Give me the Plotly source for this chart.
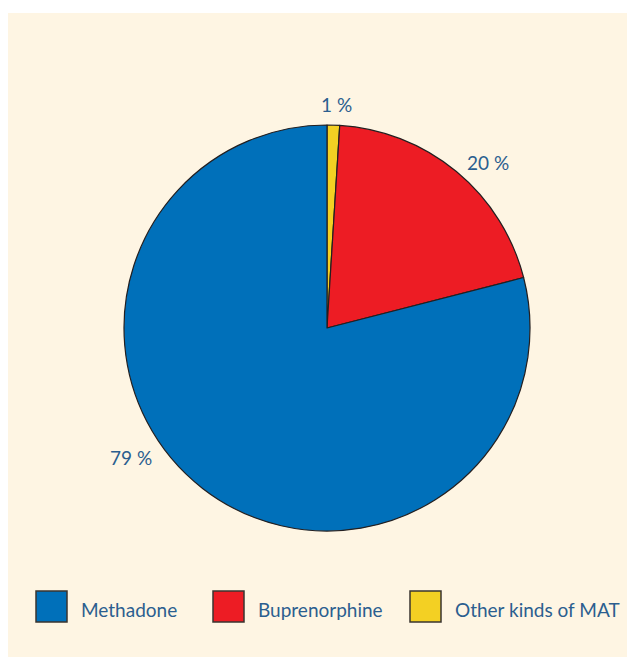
import plotly.graph_objects as go

# page body has an 8px margin; figure covers window minus that offset
OFF = 8
W, H = 635 - OFF, 657 - OFF

# data (pie order clockwise from top)
labels = ["Other kinds of MAT", "Buprenorphine", "Methadone"]
values = [1, 20, 79]
colors = ["#F3D023", "#ED1C24", "#0070BA"]

# legend order
legend_order = ["Methadone", "Buprenorphine", "Other kinds of MAT"]

TEXT = "#2B5E8F"
BG = "#FEF5E3"
FONT = "Lato"
FS = 19

cx, cy, r = 327, 328, 203

def px(x):
    return (x - OFF) / W

def py(y):
    return 1 - (y - OFF) / H

fig = go.Figure()
fig.add_trace(go.Pie(
    labels=labels, values=values, sort=False, direction="clockwise", rotation=0,
    marker=dict(colors=colors, line=dict(color="#231F20", width=1.2)),
    textinfo="none", hoverinfo="label+percent", showlegend=False,
    domain=dict(x=[px(cx - r), px(cx + r)], y=[py(cy + r), py(cy - r)]),
))

# percentage labels (placement positions in px)
label_pos = {"Other kinds of MAT": (336, 105), "Buprenorphine": (488, 162), "Methadone": (131, 457)}
annotations = []
for lab, v in zip(labels, values):
    x, y = label_pos[lab]
    annotations.append(dict(x=px(x), y=py(y), xref="paper", yref="paper", text=f"{v} %",
                            showarrow=False, font=dict(family=FONT, size=FS, color=TEXT),
                            xanchor="center", yanchor="middle"))

shapes = [dict(type="rect", xref="paper", yref="paper", x0=0, x1=1, y0=0, y1=py(13),
               fillcolor=BG, line=dict(width=0), layer="below")]

# custom legend
sq_x = [36, 213, 410]
for lab, x0 in zip(legend_order, sq_x):
    col = colors[labels.index(lab)]
    shapes.append(dict(type="rect", xref="paper", yref="paper", x0=px(x0), x1=px(x0 + 31),
                       y0=py(622), y1=py(591), fillcolor=col,
                       line=dict(color="#3A3530", width=1.5)))
    annotations.append(dict(x=px(x0 + 43), y=py(609), xref="paper", yref="paper", text=lab,
                            showarrow=False, font=dict(family=FONT, size=FS, color=TEXT),
                            xanchor="left", yanchor="middle"))

fig.update_layout(width=W, height=H, margin=dict(l=0, r=0, t=0, b=0),
                  paper_bgcolor="white", plot_bgcolor="white",
                  shapes=shapes, annotations=annotations, showlegend=False)
fig.write_html("out.html")
